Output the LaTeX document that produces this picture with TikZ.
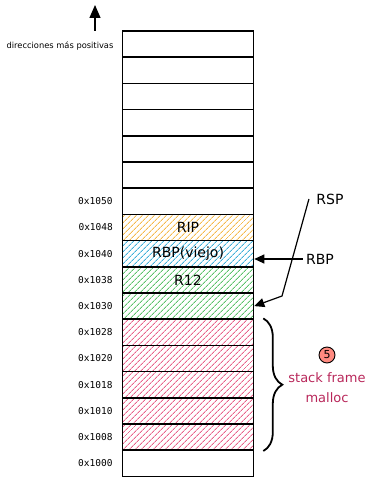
\documentclass[tikz,border=0pt]{standalone}
\usepackage{fontspec}
\setmainfont{DejaVu Sans}
\setmonofont{DejaVu Sans Mono}
\usepackage{tikz}
\usetikzlibrary{arrows.meta, positioning, patterns.meta, decorations.pathreplacing}
\definecolor{ripfill}{HTML}{F5B94A}
\definecolor{rbpfill}{HTML}{3FB0D9}
\definecolor{r12fill}{HTML}{5BC26A}
\definecolor{mallocfill}{HTML}{E8628A}
\definecolor{frametext}{HTML}{B8275A}
\definecolor{badgefill}{HTML}{FF8A80}

\begin{document}
\begin{tikzpicture}[x=1pt, y=-1pt,
        cell/.style={rectangle, draw=black, line width=1.6pt, minimum width=131pt, minimum height=26.2pt, inner sep=0pt, font=\fontsize{14}{15}\selectfont},
        hatch/.style={pattern={Lines[angle=45, distance=4pt, line width=0.9pt]}, pattern color=#1},
        addr/.style={font=\ttfamily\fontsize{9.5}{10}\selectfont, inner sep=1pt},
        reg/.style={font=\fontsize{14}{15}\selectfont},
        ptr/.style={-{Triangle[length=10pt, width=9pt]}, line width=1.2pt}
    ]
        \useasboundingbox (0,0) rectangle (367,478);

        \foreach \i in {0,...,6,16}
            \node[cell] (c\i) at (188, {44.1+26.2*\i}) {};
        \foreach \i/\col/\txt in {7/ripfill/RIP, 8/rbpfill/RBP(viejo), 9/r12fill/R12, 10/r12fill/,
                11/mallocfill/, 12/mallocfill/, 13/mallocfill/, 14/mallocfill/, 15/mallocfill/}
            \node[cell, hatch=\col] (c\i) at (188, {44.1+26.2*\i}) {\txt};

        \foreach \i/\a in {6/1050, 7/1048, 8/1040, 9/1038, 10/1030, 11/1028, 12/1020, 13/1018, 14/1010, 15/1008, 16/1000}
            \node[addr, left=8pt of c\i] (a\i) {0x\a};

        \node[font=\fontsize{8.3}{9}\selectfont] (dir) at (60,46) {direcciones más positivas};
        \coordinate (tail) at (95,31);
        \coordinate (tip) at (95,5);
        \draw[-{Triangle[length=13pt, width=11pt]}, line width=1.2pt] (tail) -- (tip);

        \node[reg] (rsp) at (330,199) {RSP};
        \node[reg] (rbp) at (320,259) {RBP};
        \coordinate (bend) at (282,296);
        \draw[ptr] ([xshift=-4pt]rsp.west) -- (bend) -- (c10.east);
        \draw[ptr] (rbp.west) -- (rbp.west -| c8.east);

        \coordinate (bracetop) at ([xshift=9pt]c11.north east);
        \coordinate (bracebot) at ([xshift=9pt]c15.south east);
        \draw[line width=1.8pt, decorate, decoration={brace, amplitude=19pt}] (bracetop) -- (bracebot);

        \node[circle, draw, line width=0.9pt, fill=badgefill, minimum size=16pt, inner sep=0pt, font=\fontsize{11}{12}\selectfont] (five) at (327,355) {5};
        \node[text=frametext, align=center, font=\fontsize{13}{20}\selectfont] (frame) at (327,388) {stack frame\\malloc};
    \end{tikzpicture}
\end{document}
